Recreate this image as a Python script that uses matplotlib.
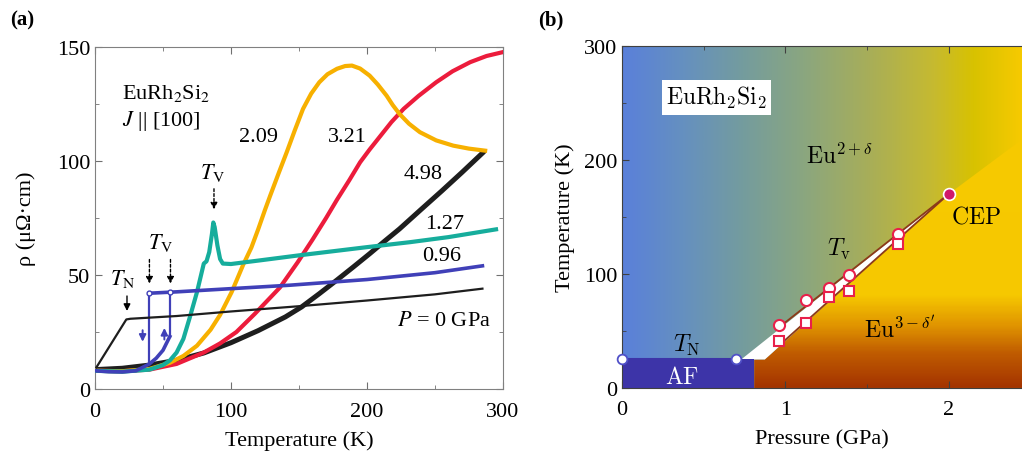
import numpy as np
import matplotlib
matplotlib.use("Agg")
import matplotlib.pyplot as plt
from matplotlib.colors import LinearSegmentedColormap
from matplotlib.patches import Polygon, Rectangle

plt.rcParams['font.family'] = 'serif'
plt.rcParams['font.serif'] = ['Liberation Serif', 'DejaVu Serif']
plt.rcParams['mathtext.fontset'] = 'stix'

# ---- panel (a): resistivity vs temperature ----
T_p0 = [1, 23, 26, 60, 100, 150, 200, 250, 285]
rho_p0 = [9.5, 30.5, 30.8, 32, 34, 36.3, 38.8, 41.5, 44]

T_096_low = [0, 10, 20, 30, 40, 45, 50, 55]
rho_096_low = [8, 7.6, 7.5, 8, 11, 13.5, 17, 23]
T_096_high = [40, 60, 100, 143, 200, 250, 285]
rho_096_high = [42, 42.6, 44, 45.5, 48, 51, 54]

T_127 = [0, 20, 40, 50, 55, 60, 65, 70, 75, 78, 80, 82, 84, 86, 87, 88, 90,
         92, 94, 100, 120, 150, 200, 232, 260, 295]
rho_127 = [8, 7.6, 8.5, 10.5, 12.5, 16, 22, 32, 42.5, 50, 55, 56, 60, 68, 73,
           71, 63, 57, 55, 54.8, 56.3, 58.6, 62.2, 64.4, 66.6, 70]

T_209 = [0, 20, 40, 55, 65, 75, 85, 92, 100.5, 109, 115, 120, 125, 129, 135,
         141, 147, 153, 159, 165, 171, 178, 184, 189, 195, 202, 208, 214.5,
         219, 224, 231, 239, 251, 263.5, 275, 287]
rho_209 = [8, 7.8, 8.8, 11.5, 14.5, 19, 26, 32.5, 42.5, 54.5, 62, 70, 78.5,
           85, 94.5, 103.8, 113.5, 122.8, 129.5, 134.5, 138, 140.4, 141.6,
           141.8, 140.5, 137.4, 133.5, 128.6, 124.5, 120.6, 116.3, 112.6, 109,
           106.7, 105.4, 104.5]

T_321 = [0, 20, 40, 60, 80, 92, 104, 117.6, 128, 136, 149, 160, 170, 178,
         187, 195, 202, 210, 218, 227, 238, 251, 263, 276, 288, 300]
rho_321 = [8, 7.8, 8.5, 11, 16, 20, 25, 33, 39.5, 44.5, 55.5, 65.5, 75, 83,
           91.5, 99.4, 105, 111, 117, 122.8, 128.5, 134.5, 139.3, 143.3, 146,
           147.7]

T_498 = [0, 20, 40, 60, 80, 100, 120, 140, 152, 165, 178, 190, 202, 213,
         224, 240, 255, 270, 286]
rho_498 = [8.5, 9.1, 10.5, 12.6, 15.8, 20.3, 25.6, 31.6, 36, 41.8, 47.8, 53.5,
           59.3, 64.8, 70.2, 78.8, 86.8, 95, 104]

# ---- panel (b): phase diagram ----
P_circ = [0.96, 1.13, 1.27, 1.39, 1.69]
T_circ = [55, 77, 88, 99, 135]
P_sq = [0.96, 1.13, 1.27, 1.39, 1.69]
T_sq = [41, 57, 80, 85, 126]
P_cep, T_cep = 2.0, 170
P_tn = [0, 0.7]
T_tn = [25, 25]
P_upper = [0.73, 2.0]
T_upper = [25, 170]
P_lower = [0.875, 2.0]
T_lower = [25, 170]

fig = plt.figure(figsize=(10.22, 4.56), dpi=100)
ax = fig.add_axes([0.093, 0.1447, 0.399, 0.7503])
bx = fig.add_axes([0.6086, 0.147, 0.3914, 0.75])

# panel (a)
ax.plot(T_498, rho_498, color='#1e1e1e', lw=3.6, solid_capstyle='round', zorder=2)
ax.plot(T_321, rho_321, color='#ec1c3c', lw=3.0, zorder=3)
ax.plot(T_209, rho_209, color='#f7b000', lw=3.0, zorder=3)
ax.plot(T_127, rho_127, color='#16ad9c', lw=3.0, zorder=3)
ax.plot(T_096_low, rho_096_low, color='#4040b8', lw=2.6, zorder=4)
ax.plot(T_096_high, rho_096_high, color='#4040b8', lw=2.6, zorder=4)
ax.plot([T_096_high[0], T_096_high[0]], [rho_096_high[0], 12], color='#4040b8', lw=1.6, zorder=4)
ax.plot([T_096_low[-1], T_096_low[-1]], [rho_096_low[-1], rho_096_high[0] + 0.5],
        color='#4040b8', lw=1.6, zorder=4)
ax.plot([T_096_high[0], T_096_low[-1]], [rho_096_high[0], rho_096_high[0] + 0.5], 'o',
        ms=3.5, mfc='white', mec='#4040b8', mew=1, zorder=5)
ax.plot(T_p0, rho_p0, color='#1e1e1e', lw=1.6, zorder=5)

ax.annotate('', xy=(35, 19.5), xytext=(35, 27),
            arrowprops=dict(arrowstyle='-|>', color='#4040b8', lw=1.4, mutation_scale=10))
ax.annotate('', xy=(51, 28), xytext=(51, 20.5),
            arrowprops=dict(arrowstyle='-|>', color='#4040b8', lw=1.4, mutation_scale=10))

ax.annotate('', xy=(23.5, 33), xytext=(23.5, 42),
            arrowprops=dict(arrowstyle='-|>', color='black', lw=1.0, mutation_scale=10))
ax.text(20, 48.5, r'$T_{\rm N}$', fontsize=16, ha='center', va='center')
for tx in (40, 55.5):
    ax.annotate('', xy=(tx, 45), xytext=(tx, 58),
                arrowprops=dict(arrowstyle='-|>', color='black', lw=1.0,
                                ls=(0, (2, 1.5)), mutation_scale=10))
ax.text(48, 64.5, r'$T_{\rm V}$', fontsize=16, ha='center', va='center')
ax.annotate('', xy=(87.5, 77.5), xytext=(87.5, 89),
            arrowprops=dict(arrowstyle='-|>', color='black', lw=1.0,
                            ls=(0, (2, 1.5)), mutation_scale=10))
ax.text(86.5, 95, r'$T_{\rm V}$', fontsize=16, ha='center', va='center')

ax.text(20, 130, r'EuRh$_2$Si$_2$', fontsize=16, ha='left', va='center')
ax.text(20, 118, r'$J$ || [100]', fontsize=16, ha='left', va='center')
ax.text(120, 110.5, '2.09', fontsize=16, ha='center', va='center')
ax.text(186, 110.5, '3.21', fontsize=16, ha='center', va='center')
ax.text(241, 94.5, '4.98', fontsize=16, ha='center', va='center')
ax.text(257, 72.5, '1.27', fontsize=16, ha='center', va='center')
ax.text(255, 58.5, '0.96', fontsize=16, ha='center', va='center')
ax.text(257, 30, r'$P$ = 0 GPa', fontsize=16, ha='center', va='center')

ax.set_xlim(0, 300)
ax.set_ylim(0, 150)
ax.set_xticks([0, 100, 200, 300])
ax.set_xticks([50, 150, 250], minor=True)
ax.set_yticks([0, 50, 100, 150])
ax.set_yticks([25, 75, 125], minor=True)
ax.tick_params(which='both', direction='in', top=True, right=True, labelsize=16,
               color='#707070', length=5)
ax.tick_params(which='minor', length=3)
ax.tick_params(axis='x', pad=9)
for s in ax.spines.values():
    s.set_color('#808080')
ax.set_xlabel('Temperature (K)', fontsize=16, labelpad=7)
ax.set_ylabel('ρ (μΩ·cm)', fontsize=16, labelpad=15)
fig.text(0.010, 0.955, '(a)', fontsize=15, fontweight='bold', va='center')
fig.text(0.527, 0.955, '(b)', fontsize=15, fontweight='bold', va='center')

# panel (b)
pmax = 2.45
bg_cmap = LinearSegmentedColormap.from_list('bg', [
    (0.0, '#5a80da'), (0.15, '#6590c0'), (0.3, '#749c9e'), (0.45, '#8aa680'),
    (0.62, '#a8ae58'), (0.78, '#c6ba30'), (0.88, '#d8c200'), (1.0, '#f6ca00')])
grad_x = np.linspace(0, 1, 400)[None, :]
bx.imshow(grad_x, extent=[0, pmax, 0, 300], origin='lower', aspect='auto',
          cmap=bg_cmap, zorder=0)
y_cmap = LinearSegmentedColormap.from_list('yel', [
    (0.0, '#a43400'), (0.1, '#c05c00'), (0.18, '#e09400'), (0.27, '#f6c800'),
    (1.0, '#f7cb00')])
grad_y = np.linspace(0, 1, 300)[:, None]
im = bx.imshow(grad_y, extent=[0, pmax, 0, 300], origin='lower', aspect='auto',
               cmap=y_cmap, zorder=1)
yellow_poly = Polygon([(0.81, 0), (0.81, 25), (P_lower[0], T_lower[0]), (P_cep, T_cep),
                       (pmax, 218), (pmax, 0)], closed=True, transform=bx.transData)
im.set_clip_path(yellow_poly)

bx.add_patch(Polygon([(P_upper[0], T_upper[0]), (P_lower[0], T_lower[0]), (P_cep, T_cep)],
                     closed=True, facecolor='white', edgecolor='none', zorder=2))
bx.add_patch(Rectangle((0, 0), 0.81, 25, facecolor='#3d34a8', edgecolor='none', zorder=2))

bx.plot([P_circ[0], P_cep], [T_circ[0] - 2, T_cep], color='#8b3a1a', lw=1.3, zorder=3)
bx.plot([P_sq[0], P_cep], [T_sq[0] - 4, T_cep], color='#8b3a1a', lw=1.3, zorder=3)
bx.plot(P_tn, T_tn, color='#3d34a8', lw=1.5, zorder=3)
bx.plot(P_tn, T_tn, 'o', ms=7, mfc='white', mec='#5050c8', mew=1.3, zorder=6,
        clip_on=False)
bx.plot(P_circ, T_circ, 'o', ms=8, mfc='white', mec='#e8204a', mew=1.5, zorder=5)
bx.plot(P_sq, T_sq, 's', ms=7.5, mfc='white', mec='#e8204a', mew=1.5, zorder=5)
bx.plot([P_cep], [T_cep], 'o', ms=8.5, mfc='#d0186a', mec='white', mew=1.2, zorder=6)

mt = dict(math_fontfamily='cm', fontsize=17)
bx.text(0.58, 255, r'$\mathrm{EuRh_2Si_2}$', ha='center', va='center',
        bbox=dict(facecolor='white', edgecolor='none', pad=3), **mt)
bx.text(1.33, 204, r'$\mathrm{Eu}^{2+\delta}$', ha='center', va='center', **mt)
bx.text(1.33, 122, r'$T_\mathrm{v}$', ha='center', va='center', **mt)
bx.text(2.17, 150, r'$\mathrm{CEP}$', ha='center', va='center', **mt)
bx.text(1.70, 53, r"$\mathrm{Eu}^{3-\delta'}$", ha='center', va='center', **mt)
bx.text(0.4, 38, r'$T_\mathrm{N}$', ha='center', va='center', **mt)
bx.text(0.37, 10, r'$\mathrm{AF}$', ha='center', va='center', color='white', **mt)

bx.set_xlim(0, pmax)
bx.set_ylim(0, 300)
bx.set_xticks([0, 1, 2])
bx.set_xticks([0.5, 1.5], minor=True)
bx.set_yticks([0, 100, 200, 300])
bx.set_yticks([50, 150, 250], minor=True)
bx.tick_params(which='both', direction='in', top=True, right=False, labelsize=16,
               color='#404040', length=5)
bx.tick_params(which='minor', length=3)
bx.tick_params(axis='x', pad=9)
for s in bx.spines.values():
    s.set_color('#404040')
bx.spines['right'].set_visible(False)
bx.set_xlabel('Pressure (GPa)', fontsize=16, labelpad=7)
bx.set_ylabel('Temperature (K)', fontsize=16, labelpad=6)

fig.savefig('out.png', dpi=100)
